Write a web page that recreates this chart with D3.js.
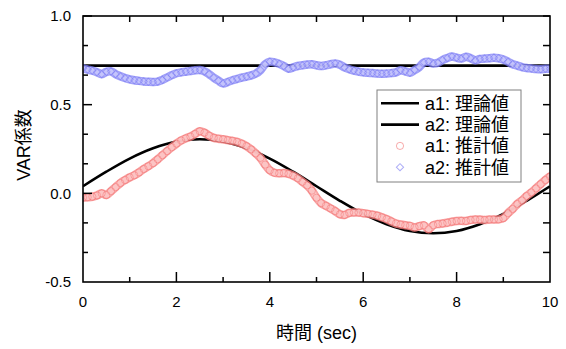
<!DOCTYPE html>
<html><head><meta charset="utf-8">
<script src="https://cdn.jsdelivr.net/npm/d3@7/dist/d3.min.js"></script>
<style>
html,body{margin:0;padding:0;background:#fff;}
svg{display:block;}
text{font-family:"Liberation Sans","Noto Sans CJK JP",sans-serif;fill:#000;}
</style></head>
<body><svg id="c" width="566" height="349"></svg>
<script>
// ---- data ----
const xTickValues = [0, 2, 4, 6, 8, 10];
const yTickValues = [-0.5, 0.0, 0.5, 1.0];
const yTickLabels = ["-0.5", "0.0", "0.5", "1.0"];
const legendLabels = ["a1: 理論値", "a2: 理論値", "a1: 推計値", "a2: 推計値"];
const xTitle = "時間 (sec)";
const yTitle = "VAR係数";

// theoretical a1 (read every 0.5 s)
const theoryT = [0,0.5,1,1.5,2,2.5,3,3.5,4,4.5,5,5.5,6,6.5,7,7.5,8,8.5,9,9.5,10];
const theoryA1 = [0.040,0.122,0.196,0.254,0.292,0.305,0.292,0.254,0.196,0.122,0.040,
  -0.042,-0.116,-0.174,-0.212,-0.225,-0.212,-0.174,-0.116,-0.042,0.040];
const theoryA2 = [0.72,0.72,0.72,0.72,0.72,0.72,0.72,0.72,0.72,0.72,0.72,
  0.72,0.72,0.72,0.72,0.72,0.72,0.72,0.72,0.72,0.72];

// estimated series (read every 0.1 s)
const estT = d3.range(101).map(i => i / 10);
const estA1 = [
 -0.024,-0.022,-0.019,-0.012,0.000,-0.010,0.012,0.035,0.058,0.075,
  0.090,0.102,0.118,0.137,0.153,0.170,0.192,0.215,0.238,0.260,
  0.280,0.298,0.310,0.320,0.335,0.350,0.342,0.325,0.313,0.308,
  0.305,0.300,0.296,0.290,0.280,0.266,0.248,0.225,0.200,0.162,
  0.130,0.116,0.113,0.114,0.110,0.100,0.085,0.065,0.045,0.015,
 -0.025,-0.055,-0.070,-0.085,-0.100,-0.118,-0.122,-0.110,-0.108,-0.108,
 -0.112,-0.116,-0.120,-0.126,-0.135,-0.145,-0.158,-0.170,-0.176,-0.180,
 -0.183,-0.192,-0.185,-0.180,-0.203,-0.180,-0.173,-0.170,-0.166,-0.160,
 -0.156,-0.155,-0.156,-0.150,-0.147,-0.148,-0.150,-0.148,-0.147,-0.147,
 -0.140,-0.112,-0.088,-0.060,-0.040,-0.015,0.005,0.028,0.052,0.075,
  0.095];
const estA2 = [
 0.705,0.698,0.692,0.683,0.672,0.685,0.688,0.672,0.660,0.650,
 0.643,0.638,0.634,0.631,0.629,0.628,0.630,0.640,0.653,0.666,
 0.677,0.682,0.686,0.690,0.694,0.695,0.688,0.672,0.652,0.635,
 0.620,0.628,0.638,0.645,0.652,0.658,0.665,0.675,0.695,0.728,
 0.742,0.738,0.730,0.718,0.703,0.710,0.718,0.722,0.726,0.728,
 0.722,0.718,0.722,0.728,0.732,0.725,0.710,0.700,0.692,0.686,
 0.682,0.680,0.678,0.676,0.675,0.676,0.678,0.682,0.694,0.688,
 0.680,0.695,0.712,0.738,0.742,0.732,0.736,0.752,0.763,0.771,
 0.765,0.760,0.770,0.762,0.750,0.758,0.760,0.762,0.765,0.762,
 0.755,0.742,0.728,0.720,0.712,0.707,0.704,0.701,0.700,0.702,
 0.703];

// ---- layout ----
const L = 83, R = 550, T = 16, B = 282;
const svg = d3.select("#c");
const x = d3.scaleLinear().domain([0, 10]).range([L, R]);
const y = d3.scaleLinear().domain([-0.5, 1.0]).range([B, T]);

svg.append("defs").append("clipPath").attr("id", "clip")
  .append("rect").attr("x", L).attr("y", T).attr("width", R - L).attr("height", B - T);
const plot = svg.append("g").attr("clip-path", "url(#clip)");

// theoretical lines
const line = d3.line().x(d => x(d[0])).y(d => y(d[1])).curve(d3.curveCatmullRom);
plot.append("path").datum(theoryT.map((t, i) => [t, theoryA1[i]]))
  .attr("d", line).attr("fill", "none").attr("stroke", "#000").attr("stroke-width", 2.6);
plot.append("path").datum(theoryT.map((t, i) => [t, theoryA2[i]]))
  .attr("d", line).attr("fill", "none").attr("stroke", "#000").attr("stroke-width", 2.6);

// estimated series: dense marker band
const redC = "rgb(240,90,90)", blueC = "rgb(90,90,240)";
const bandLine = d3.line().x(d => x(d[0])).y(d => y(d[1])).curve(d3.curveCatmullRom);
function band(data, edge, inner) {
  const g = plot.append("g");
  g.append("path").datum(data).attr("d", bandLine).attr("fill", "none")
    .attr("stroke", edge).attr("stroke-opacity", 0.75).attr("stroke-width", 8.5)
    .attr("stroke-linejoin", "round").attr("stroke-linecap", "round");
  g.append("path").datum(data).attr("d", bandLine).attr("fill", "none")
    .attr("stroke", inner).attr("stroke-opacity", 0.9).attr("stroke-width", 5.5)
    .attr("stroke-linejoin", "round").attr("stroke-linecap", "round");
  return g;
}
const dA1 = estT.map((t, i) => [t, estA1[i]]);
const dA2 = estT.map((t, i) => [t, estA2[i]]);
const gA1 = band(dA1, "rgb(245,130,130)", "rgb(252,200,200)");
gA1.selectAll("circle").data(dA1).join("circle")
  .attr("cx", d => x(d[0])).attr("cy", d => y(d[1])).attr("r", 3.6)
  .attr("fill", "none").attr("stroke", redC).attr("stroke-opacity", 0.35).attr("stroke-width", 1);
const diamond = d3.symbol().type(d3.symbolSquare).size(26);
const gA2 = band(dA2, "rgb(130,130,245)", "rgb(200,200,252)");
gA2.selectAll("path.m").data(dA2).join("path").attr("class", "m").attr("d", diamond)
  .attr("transform", d => `translate(${x(d[0])},${y(d[1])}) rotate(45)`)
  .attr("fill", "none").attr("stroke", blueC).attr("stroke-opacity", 0.35).attr("stroke-width", 1);

// axes
const ax = svg.append("g");
const tk = (x1, y1, x2, y2) => ax.append("line").attr("x1", x1).attr("y1", y1).attr("x2", x2).attr("y2", y2)
  .attr("stroke", "#000").attr("stroke-width", 1.5);
d3.range(0, 11).forEach(v => {
  const major = v % 2 === 0;
  const px = x(v);
  if (v > 0 && v < 10) {
    tk(px, B, px, B - (major ? 10 : 5));
    tk(px, T, px, T + 6);
  }
});
d3.range(0, 10).forEach(k => {
  const v = -0.5 + k / 6;
  const major = k % 3 === 0;
  const py = y(v);
  if (k > 0) {
    tk(L, py, L + (major ? 9 : 5), py);
    tk(R, py, R - 7, py);
  }
});
ax.append("rect").attr("x", L).attr("y", T).attr("width", R - L).attr("height", B - T)
  .attr("fill", "none").attr("stroke", "#000").attr("stroke-width", 1.6);

// tick labels
ax.selectAll("text.xl").data(xTickValues).join("text").attr("class", "xl")
  .attr("x", d => x(d)).attr("y", 307).attr("text-anchor", "middle")
  .style("font-size", "15px").text(d => d);
ax.selectAll("text.yl").data(yTickValues).join("text").attr("class", "yl")
  .attr("x", 71).attr("y", d => y(d) + 5.4).attr("text-anchor", "end")
  .style("font-size", "15px").text((d, i) => yTickLabels[i]);

// titles
svg.append("text").attr("x", (L + R) / 2).attr("y", 339).attr("text-anchor", "middle")
  .style("font-size", "18px").text(xTitle);
svg.append("text").attr("transform", `translate(30,145) rotate(-90)`).attr("text-anchor", "middle")
  .style("font-size", "18px").text(yTitle);

// legend
const lg = svg.append("g");
lg.append("rect").attr("x", 377).attr("y", 90).attr("width", 144).attr("height", 92)
  .attr("fill", "#fff").attr("stroke", "#808080").attr("stroke-width", 1);
const rowY = [103.3, 124.6, 145.9, 167.2];
[0, 1].forEach(i => lg.append("line").attr("x1", 381).attr("x2", 419).attr("y1", rowY[i]).attr("y2", rowY[i])
  .attr("stroke", "#000").attr("stroke-width", 2.6));
lg.append("circle").attr("cx", 400).attr("cy", rowY[2]).attr("r", 3.6)
  .attr("fill", "none").attr("stroke", redC).attr("stroke-opacity", 0.5);
lg.append("path").attr("d", diamond).attr("transform", `translate(400,${rowY[3]}) rotate(45)`)
  .attr("fill", "none").attr("stroke", blueC).attr("stroke-opacity", 0.5);
lg.selectAll("text").data(legendLabels).join("text")
  .attr("x", 425).attr("y", (d, i) => rowY[i] + 6.5).style("font-size", "18px").text(d => d);
</script></body></html>
